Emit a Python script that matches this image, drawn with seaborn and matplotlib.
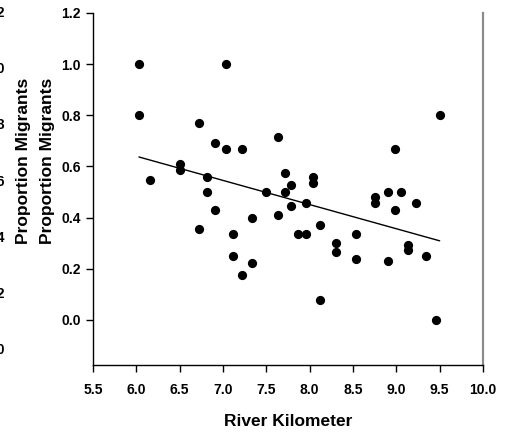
import matplotlib
matplotlib.use("Agg")
import matplotlib.pyplot as plt
from matplotlib.path import Path
from matplotlib.transforms import Affine2D
import numpy as np
import pandas as pd
import seaborn as sns

# River kilometre of each site and the proportion of migrants found there
river_km = [6.03, 6.03, 6.16, 6.50, 6.50, 6.72, 6.72, 6.81, 6.81, 6.91,
            6.91, 7.03, 7.03, 7.11, 7.11, 7.22, 7.22, 7.34, 7.34, 7.50,
            7.63, 7.63, 7.71, 7.71, 7.79, 7.79, 7.86, 7.96, 7.96, 8.04,
            8.04, 8.12, 8.12, 8.30, 8.30, 8.53, 8.53, 8.75, 8.75, 8.90,
            8.90, 8.98, 8.98, 9.05, 9.13, 9.13, 9.23, 9.34, 9.46, 9.50]
prop_migrants = [1.00, 0.80, 0.547, 0.61, 0.587, 0.77, 0.355, 0.559, 0.50, 0.69,
                 0.43, 1.00, 0.67, 0.335, 0.25, 0.67, 0.177, 0.40, 0.223, 0.50,
                 0.716, 0.409, 0.573, 0.50, 0.527, 0.446, 0.335, 0.458, 0.335, 0.56,
                 0.534, 0.371, 0.078, 0.302, 0.266, 0.336, 0.238, 0.48, 0.456, 0.50,
                 0.23, 0.67, 0.43, 0.50, 0.292, 0.273, 0.456, 0.251, 0.00, 0.80]

x_ticks = [5.5, 6.0, 6.5, 7.0, 7.5, 8.0, 8.5, 9.0, 9.5, 10.0]
y_ticks = [0.0, 0.2, 0.4, 0.6, 0.8, 1.0, 1.2]
side_labels = ["1.2", "1.0", "0.8", "0.6", "0.4", "0.2", "0.0"]

df = pd.DataFrame({"km": river_km, "prop": prop_migrants})

sns.set_style("white")
plt.rcParams["font.family"] = ["Liberation Sans", "DejaVu Sans"]
plt.rcParams["font.weight"] = "bold"
plt.rcParams["text.color"] = "black"
plt.rcParams["xtick.color"] = "black"
plt.rcParams["ytick.color"] = "black"

fig = plt.figure(figsize=(5.11, 4.34), dpi=100)
ax = fig.add_axes([93 / 511, 1 - 365 / 434, 390 / 511, 352 / 434])

# slightly tall oval dots
oval = Path.unit_circle().transformed(Affine2D().scale(0.88, 1.0))

sns.regplot(data=df, x="km", y="prop", ax=ax, ci=None, truncate=True,
            color="black",
            scatter_kws=dict(marker=oval, s=44, color="black", alpha=1.0,
                             linewidths=0),
            line_kws=dict(color="black", lw=1.0))

ax.set_xlim(5.5, 10.0)
ax.set_ylim(-0.176, 1.2)
ax.set_xticks(x_ticks)
ax.set_xticklabels([f"{t:.1f}" for t in x_ticks])
ax.set_yticks(y_ticks)
ax.set_yticklabels([f"{t:.1f}" for t in y_ticks])
ax.tick_params(axis="both", which="major", direction="out", length=5, width=1,
               color="black", labelcolor="black", labelsize=10, pad=4,
               left=True, bottom=True, right=False, top=False)
for lab in ax.get_xticklabels() + ax.get_yticklabels():
    lab.set_fontweight("bold")
ax.tick_params(axis="x", pad=8)

ax.spines["top"].set_visible(False)
ax.spines["left"].set_color("black")
ax.spines["left"].set_linewidth(1.0)
ax.spines["bottom"].set_color("black")
ax.spines["bottom"].set_linewidth(1.0)
ax.spines["right"].set_color("#8c8c8c")
ax.spines["right"].set_linewidth(1.6)

ax.set_xlabel("")
ax.set_ylabel("")
fig.text(288 / 511, 1 - 422 / 434, "River Kilometer", ha="center", va="center",
         fontsize=12.5, fontweight="bold", color="black")
for xpx in (24, 48):
    fig.text(xpx / 511, 1 - 161 / 434, "Proportion Migrants", rotation=90,
             ha="center", va="center", fontsize=12.5, fontweight="bold",
             color="black")

# tick labels of the neighbouring panel at the far left edge
for i, s in enumerate(side_labels):
    fig.text(5 / 511, 1 - (13 + 56.2 * i) / 434, s, ha="right", va="center",
             fontsize=10, fontweight="bold", color="black")

fig.savefig("out.png", dpi=100)
